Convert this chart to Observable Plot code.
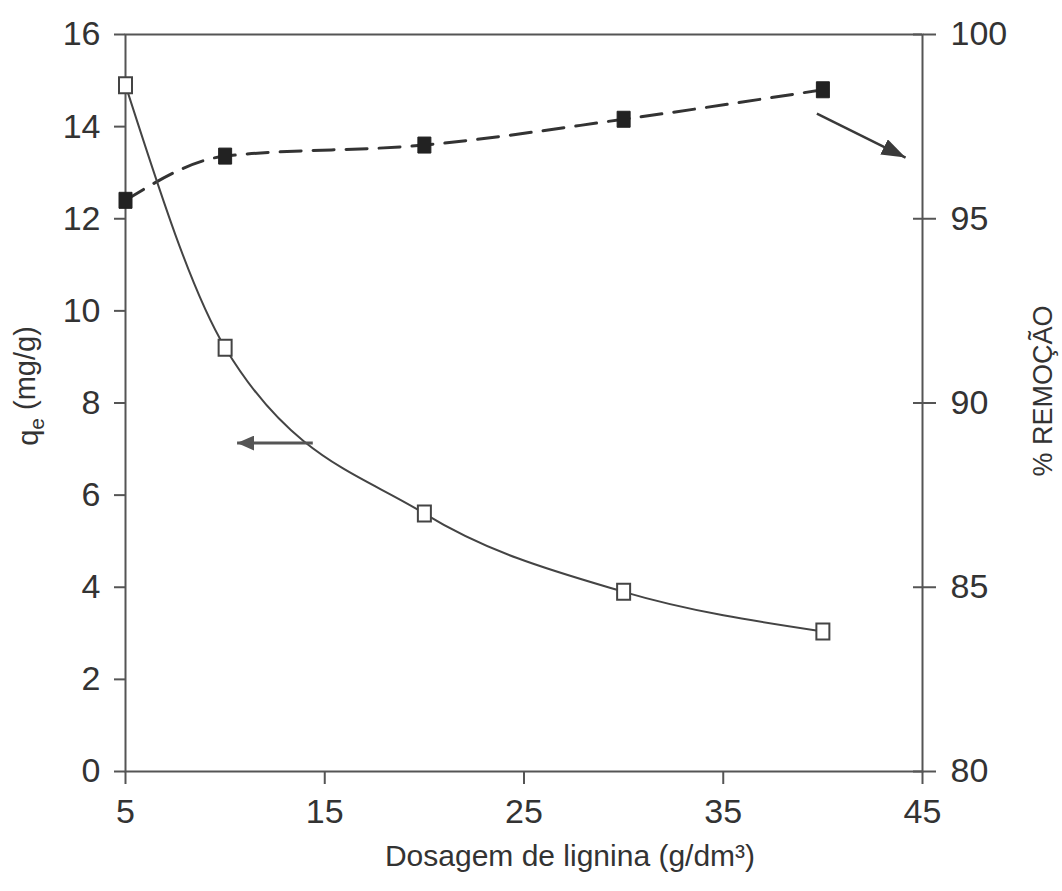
<!DOCTYPE html>
<html>
<head>
<meta charset="utf-8">
<script src="https://cdn.jsdelivr.net/npm/d3@7"></script>
<script src="https://cdn.jsdelivr.net/npm/@observablehq/plot@0.6"></script>
<style>
  html, body { margin: 0; padding: 0; background: #fff; }
  #chart svg { display: block; }
</style>
</head>
<body>
<div id="chart"></div>
<script>
// Lignin dosage (g/dm³)
const dosage = [5, 10, 20, 30, 40];
// Adsorption capacity qe (mg/g), left axis
const qe = [14.9, 9.2, 5.6, 3.9, 3.04];
// Removal (%), right axis
const removal = [95.5, 96.7, 97.0, 97.7, 98.5];

const xTicks = [5, 15, 25, 35, 45];
const qeTicks = [0, 2, 4, 6, 8, 10, 12, 14, 16];
const removalTicks = [80, 85, 90, 95, 100];

// Pointer arrows telling which axis each curve belongs to
const qeArrow = [{x1: 14.4, y1: 7.13, x2: 10.6, y2: 7.13}];
const removalArrow = [{x1: 39.7, y1: 97.85, x2: 44.15, y2: 96.66}];

// The right axis (80–100 %) shares the plot's y scale (0–16 mg/g)
const toQe = d3.scaleLinear([80, 100], [0, 16]);

const qeRows = dosage.map((d, i) => ({x: d, y: qe[i]}));
const removalRows = dosage.map((d, i) => ({x: d, y: toQe(removal[i])}));

// Slightly tall rectangles used as the point symbols
const rectSymbol = (w, h) => ({
  draw(context) {
    context.moveTo(-w / 2, -h / 2);
    context.lineTo(w / 2, -h / 2);
    context.lineTo(w / 2, h / 2);
    context.lineTo(-w / 2, h / 2);
    context.closePath();
  }
});

// Filled triangular arrowhead
const filledHead = (len, wid) => (color) => {
  const ns = "http://www.w3.org/2000/svg";
  const m = document.createElementNS(ns, "marker");
  m.setAttribute("viewBox", `0 ${-wid / 2} ${len} ${wid}`);
  m.setAttribute("markerWidth", len);
  m.setAttribute("markerHeight", wid);
  m.setAttribute("markerUnits", "userSpaceOnUse");
  m.setAttribute("refX", len);
  m.setAttribute("refY", 0);
  m.setAttribute("orient", "auto");
  const p = document.createElementNS(ns, "path");
  p.setAttribute("d", `M0,${-wid / 2}L${len},0L0,${wid / 2}Z`);
  p.setAttribute("fill", color);
  p.setAttribute("stroke", "none");
  m.appendChild(p);
  return m;
};

const ink = "#333";
const axisInk = "#555";

const plot = Plot.plot({
  width: 1062,
  height: 891,
  marginLeft: 125,
  marginRight: 140,
  marginTop: 34,
  marginBottom: 120,
  style: {fontFamily: "'Liberation Sans', Arial, sans-serif", color: ink, background: "#fff"},
  x: {domain: [5, 45]},
  y: {domain: [0, 16]},
  marks: [
    Plot.frame({stroke: axisInk, strokeWidth: 2}),
    Plot.axisX({ticks: xTicks, tickSize: 13, tickPadding: 14, fontSize: 34, label: null, stroke: axisInk, strokeWidth: 2}),
    Plot.axisY({anchor: "left", ticks: qeTicks, tickSize: 11, tickPadding: 14, fontSize: 34, label: null, stroke: axisInk, strokeWidth: 2}),
    Plot.axisY({
      anchor: "right",
      ticks: removalTicks.map(toQe),
      tickFormat: (d) => d3.format("d")(Math.round(toQe.invert(d))),
      tickSize: 13, tickPadding: 15, fontSize: 34, label: null, stroke: axisInk, strokeWidth: 2
    }),
    // inner half of the right-axis ticks
    Plot.ruleY(removalTicks.map(toQe), {y: (d) => d, x1: 45, x2: 45, insetLeft: -9, stroke: axisInk, strokeWidth: 2}),

    // removal curve (dashed)
    Plot.line(removalRows, {x: "x", y: "y", curve: "monotone-x", stroke: "#333", strokeWidth: 3, strokeDasharray: "21,12"}),
    // qe curve (solid)
    Plot.line(qeRows, {x: "x", y: "y", curve: "monotone-x", stroke: "#444", strokeWidth: 2}),

    // arrows
    Plot.link(qeArrow, {x1: "x1", y1: "y1", x2: "x2", y2: "y2", stroke: "#555", strokeWidth: 3, markerEnd: filledHead(17, 15)}),
    Plot.link(removalArrow, {x1: "x1", y1: (d) => toQe(d.y1), x2: "x2", y2: (d) => toQe(d.y2), stroke: "#3a3a3a", strokeWidth: 2.5, markerEnd: filledHead(24, 17)}),

    Plot.dot(removalRows, {x: "x", y: "y", symbol: rectSymbol(13, 16), r: 1, fill: "#222", stroke: "#222", strokeWidth: 1}),
    Plot.dot(qeRows, {x: "x", y: "y", symbol: rectSymbol(13, 16), r: 1, fill: "#fff", stroke: "#444", strokeWidth: 2}),

    // axis titles
    Plot.text(["Dosagem de lignina (g/dm³)"], {frameAnchor: "bottom", dx: 46, dy: 94, fontSize: 30, fill: ink}),
    Plot.text(["qe (mg/g)"], {frameAnchor: "left", rotate: -90, textAnchor: "middle", dx: -97, dy: -17, fontSize: 29, fill: ink}),
    Plot.text(["% REMOÇÃO"], {frameAnchor: "right", rotate: -90, textAnchor: "middle", dx: 121, dy: -12, fontSize: 27, fill: ink})
  ]
});

// subscript "e" in the qe title
d3.select(plot).selectAll("text")
  .filter(function () { return this.textContent === "qe (mg/g)"; })
  .each(function () {
    const t = d3.select(this);
    t.text(null);
    t.append("tspan").text("q");
    t.append("tspan").attr("font-size", "0.72em").attr("dy", "0.3em").text("e");
    t.append("tspan").attr("dy", "-0.3em").text(" (mg/g)");
  });

document.getElementById("chart").appendChild(plot);
</script>
</body>
</html>
